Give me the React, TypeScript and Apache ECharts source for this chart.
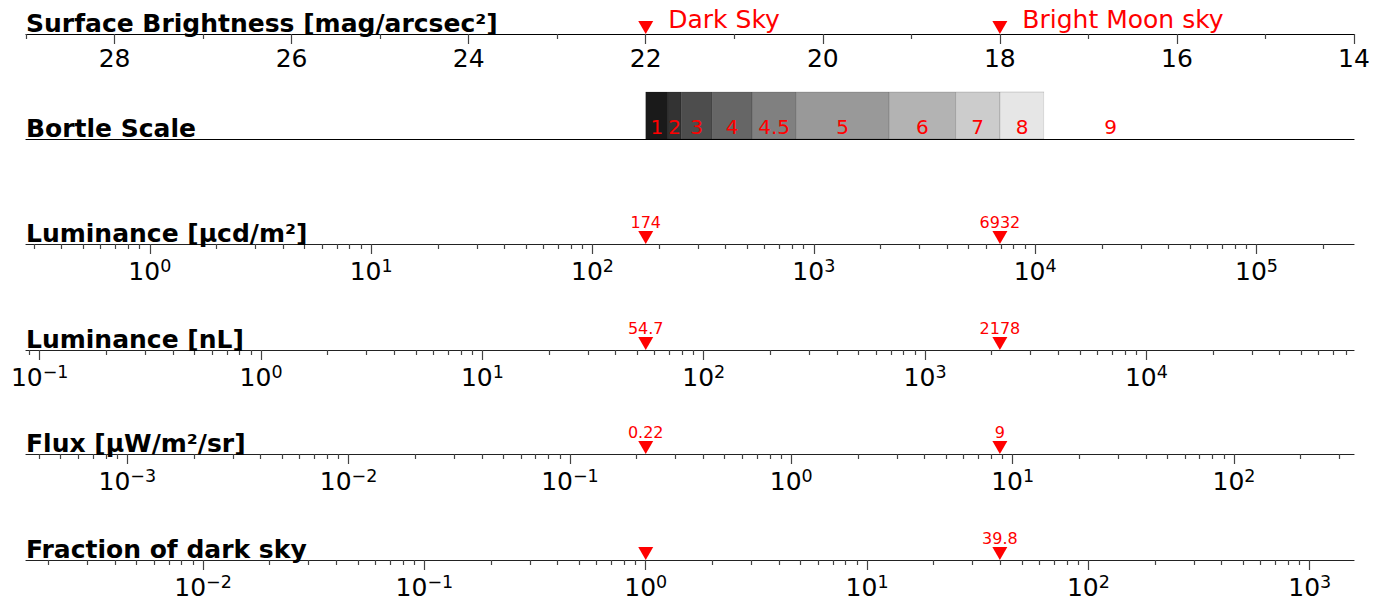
import React, { useEffect, useRef } from "react";
import * as echarts from "echarts";

// ---------------- data ----------------
const MAG_MIN = 14;
const MAG_MAX = 29;
const magMajorTicks = [14, 16, 18, 20, 22, 24, 26, 28];
const magMinorTicks = [15, 17, 19, 21, 23, 25, 27, 29];
const skyMarkMags = [22, 18];
const skyMarkLabels = ["Dark Sky", "Bright Moon sky"];

const bortleClasses = ["1", "2", "3", "4", "4.5", "5", "6", "7", "8", "9"];
const bortleFrom = [22.0, 21.75, 21.6, 21.25, 20.8, 20.3, 19.25, 18.5, 18.0, 17.5];
const bortleTo = [21.75, 21.6, 21.25, 20.8, 20.3, 19.25, 18.5, 18.0, 17.5, 16.0];

const rowTitles = [
  "Surface Brightness [mag/arcsec²]",
  "Bortle Scale",
  "Luminance [µcd/m²]",
  "Luminance [nL]",
  "Flux [µW/m²/sr]",
  "Fraction of dark sky",
];

const lumMarks = [174, 6932];
const lumMarkLabels = ["174", "6932"];
const lumExps = [0, 1, 2, 3, 4, 5];

const nlMarks = [54.7, 2178];
const nlMarkLabels = ["54.7", "2178"];
const nlExps = [-1, 0, 1, 2, 3, 4];

const fluxMarks = [0.22, 8.76];
const fluxMarkLabels = ["0.22", "9"];
const fluxExps = [-3, -2, -1, 0, 1, 2];

const fracMarks = [1, 39.8];
const fracMarkLabels = ["", "39.8"];
const fracExps = [-2, -1, 0, 1, 2, 3];

// ---------------- styles / layout ----------------
const FONT = "DejaVu Sans";
const BORTLE_GRAYS = ["#1a1a1a", "#333333", "#4d4d4d", "#666666", "#808080", "#999999", "#b3b3b3", "#cccccc", "#e6e6e6", "#ffffff"];
const LINE_Y = [34, 139, 244, 350, 454, 560];
const LEFT = 26;
const RIGHT = 34;
const RED = "#ff0000";
const TRI = "path://M0,0L2,0L1,1.73Z";

function fmtExp(e: number) {
  return e < 0 ? "\u2212" + Math.abs(e) : String(e);
}

function buildOption() {
  const grid: any[] = [];
  const xAxis: any[] = [];
  const yAxis: any[] = [];
  const series: any[] = [];
  const graphic: any[] = [];

  const addGrid = (lineY: number, h: number) => {
    grid.push({ left: LEFT, right: RIGHT, top: lineY - h, height: h });
    const g = grid.length - 1;
    yAxis.push({ gridIndex: g, type: "value", min: 0, max: 1, show: false });
    return g;
  };

  const markerSeries = (g: number, xs: number[], labels: string[], top: boolean) => ({
    type: "scatter",
    xAxisIndex: g,
    yAxisIndex: g,
    symbol: TRI,
    symbolSize: [15, 13],
    symbolKeepAspect: false,
    symbolOffset: [0, -6.5],
    itemStyle: { color: RED, opacity: 1 },
    silent: true,
    z: 5,
    label: top
      ? { show: true, position: "right", distance: 15, offset: [0, -8], formatter: "{b}", color: RED, opacity: 1, fontSize: 25, fontFamily: FONT }
      : { show: true, position: "top", distance: 1, formatter: "{b}", color: RED, opacity: 1, fontSize: 16, fontFamily: FONT },
    data: xs.map((x, i) => ({ name: labels[i], value: [x, 0] })),
  });

  // Row 0: surface brightness
  {
    const g = addGrid(LINE_Y[0], 30);
    xAxis.push({
      gridIndex: g, type: "value", inverse: true, min: MAG_MIN, max: MAG_MAX,
      axisLine: { show: true, lineStyle: { color: "#000", width: 1.2 } },
      axisTick: { show: true, length: 10, lineStyle: { color: "#444", width: 1.2 }, customValues: magMajorTicks },
      axisLabel: { show: true, customValues: magMajorTicks, margin: 12, fontSize: 25, lineHeight: 25, color: "#000", fontFamily: FONT },
      splitLine: { show: false },
    });
    const g2 = addGrid(LINE_Y[0], 30);
    xAxis.push({
      gridIndex: g2, type: "value", inverse: true, min: MAG_MIN, max: MAG_MAX,
      axisLine: { show: false },
      axisTick: { show: true, length: 5, lineStyle: { color: "#444", width: 1.2 }, customValues: magMinorTicks },
      axisLabel: { show: false },
      splitLine: { show: false },
    });
    series.push(markerSeries(g, skyMarkMags, skyMarkLabels, true));
  }

  // Row 1: Bortle
  {
    const g = addGrid(LINE_Y[1], 47);
    xAxis.push({
      gridIndex: g, type: "value", inverse: true, min: MAG_MIN, max: MAG_MAX,
      axisLine: { show: true, lineStyle: { color: "#000", width: 1.2 } },
      axisTick: { show: false }, axisLabel: { show: false }, splitLine: { show: false },
    });
    series.push({
      type: "custom",
      xAxisIndex: g,
      yAxisIndex: g,
      silent: true,
      data: bortleClasses.map((c, i) => [bortleFrom[i], bortleTo[i], i]),
      renderItem: (params: any, api: any) => {
        const s = api.value(0);
        const e = api.value(1);
        const idx = api.value(2);
        const p0 = api.coord([s, 1]);
        const p1 = api.coord([e, 0]);
        const x = Math.min(p0[0], p1[0]);
        const w = Math.abs(p1[0] - p0[0]);
        return {
          type: "group",
          children: [
            { type: "rect", shape: { x, y: p0[1], width: w, height: p1[1] - p0[1] }, style: { fill: BORTLE_GRAYS[idx], stroke: "rgba(0,0,0,0.15)", lineWidth: idx === 9 ? 0 : 1 } },
            { type: "text", style: { text: bortleClasses[idx], x: x + w / 2, y: p1[1] - 12, align: "center", verticalAlign: "middle", fill: RED, font: `20px "${FONT}"` }, z2: 10 },
          ],
        };
      },
    });
  }

  // log rows
  const logRows = [
    { marks: lumMarks, labels: lumMarkLabels, exps: lumExps },
    { marks: nlMarks, labels: nlMarkLabels, exps: nlExps },
    { marks: fluxMarks, labels: fluxMarkLabels, exps: fluxExps },
    { marks: fracMarks, labels: fracMarkLabels, exps: fracExps },
  ];
  logRows.forEach((row, r) => {
    const lineY = LINE_Y[r + 2];
    const ref = row.marks[0];
    const lo = Math.log10(ref) - 0.4 * (MAG_MAX - skyMarkMags[0]);
    const hi = Math.log10(ref) + 0.4 * (skyMarkMags[0] - MAG_MIN);
    const minors: number[] = [];
    for (let e = Math.floor(lo); e <= Math.ceil(hi); e++) {
      for (let k = 2; k <= 9; k++) {
        const v = e + Math.log10(k);
        if (v >= lo && v <= hi) minors.push(v);
      }
    }
    const g = addGrid(lineY, 40);
    xAxis.push({
      gridIndex: g, type: "value", min: lo, max: hi,
      axisLine: { show: true, lineStyle: { color: "#222", width: 1.2 } },
      axisTick: { show: true, length: 10, lineStyle: { color: "#444", width: 1.2 }, customValues: row.exps },
      axisLabel: {
        show: true,
        customValues: row.exps,
        margin: 13,
        color: "#000",
        fontFamily: FONT,
        formatter: (v: number) => `{b|10}{s|${fmtExp(Math.round(v))}}`,
        rich: {
          b: { fontSize: 25, lineHeight: 28, fontFamily: FONT, color: "#000" },
          s: { fontSize: 17.5, lineHeight: 13, verticalAlign: "top", fontFamily: FONT, color: "#000" },
        },
      },
      splitLine: { show: false },
    });
    const g2 = addGrid(lineY, 40);
    xAxis.push({
      gridIndex: g2, type: "value", min: lo, max: hi,
      axisLine: { show: false },
      axisTick: { show: true, length: 5, lineStyle: { color: "#444", width: 1.2 }, customValues: minors },
      axisLabel: { show: false },
      splitLine: { show: false },
    });
    series.push(markerSeries(g, row.marks.map((m) => Math.log10(m)), row.labels, false));
  });

  rowTitles.forEach((t, i) => {
    graphic.push({
      type: "text",
      x: LEFT,
      y: LINE_Y[i] - 11,
      z: 20,
      style: { text: t, font: `bold 25px "${FONT}"`, fill: "#000", verticalAlign: "middle", align: "left" },
    });
  });

  return { animation: false, backgroundColor: "#fff", grid, xAxis, yAxis, series, graphic };
}

export default function App() {
  const ref = useRef<HTMLDivElement>(null);
  useEffect(() => {
    if (!ref.current) return;
    const chart = echarts.init(ref.current, undefined, { renderer: "svg" });
    chart.setOption(buildOption() as any);
    return () => chart.dispose();
  }, []);
  return <div ref={ref} style={{ position: "fixed", left: 0, top: 0, width: 1388, height: 601, background: "#fff" }} />;
}
